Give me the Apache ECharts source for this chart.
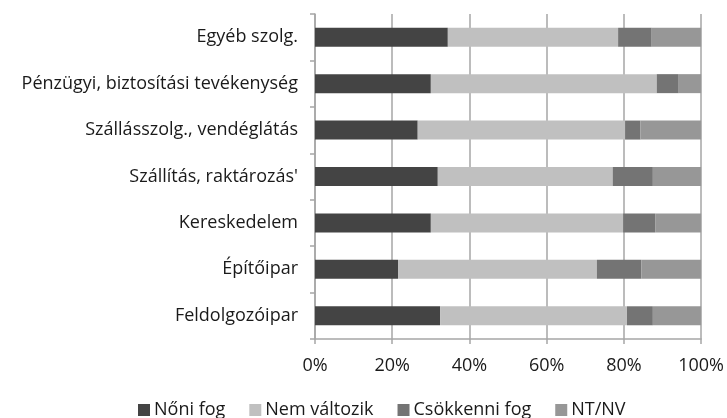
<!DOCTYPE html>
<html lang="hu">
<head>
<meta charset="UTF-8">
<title>chart</title>
<script src="https://cdn.jsdelivr.net/npm/echarts@6/dist/echarts.min.js"></script>
<style>
  html, body { margin: 0; padding: 0; background: #fff; }
  #main { width: 727px; height: 418px; }
</style>
</head>
<body>
<div id="main"></div>
<script>
// kategóriák (felülről lefelé)
var categories = ['Egyéb szolg.', 'Pénzügyi, biztosítási tevékenység', 'Szállásszolg., vendéglátás',
  "Szállítás, raktározás'", 'Kereskedelem', 'Építőipar', 'Feldolgozóipar'];
var seriesNames = ['Nőni fog', 'Nem változik', 'Csökkenni fog', 'NT/NV'];
var noni = [34.4, 30.0, 26.6, 31.8, 30.0, 21.5, 32.4];
var nemValtozik = [44.1, 58.5, 53.7, 45.3, 49.8, 51.5, 48.4];
var csokkenni = [8.7, 5.7, 4.0, 10.4, 8.3, 11.5, 6.7];
var ntnv = [12.8, 5.8, 15.7, 12.5, 11.9, 15.5, 12.5];
var xTicks = [0, 20, 40, 60, 80, 100];

var colors = ['#444444', '#c0c0c0', '#747474', '#979797'];
var font = '"Open Sans", sans-serif';

var chart = echarts.init(document.getElementById('main'));
var data = [noni, nemValtozik, csokkenni, ntnv];

chart.setOption({
  animation: false,
  color: colors,
  grid: { left: 315, right: 23, top: 14, bottom: 79 },
  legend: {
    data: seriesNames,
    left: 133,
    top: 396,
    itemWidth: 12,
    itemHeight: 12,
    itemGap: 24,
    icon: 'rect',
    textStyle: { fontFamily: font, fontSize: 18, color: '#1a1a1a', padding: [0, 0, 0, -1] }
  },
  xAxis: {
    type: 'value',
    min: xTicks[0],
    max: xTicks[xTicks.length - 1],
    interval: 20,
    axisLine: { show: true, lineStyle: { color: '#a6a6a6', width: 1.5 } },
    axisTick: { show: true, length: 5, lineStyle: { color: '#a6a6a6', width: 1.5 } },
    splitLine: { show: true, lineStyle: { color: '#a6a6a6', width: 1.5 } },
    axisLabel: {
      margin: 18,
      fontFamily: font, fontSize: 18, color: '#1a1a1a',
      formatter: function (v) { return v + '%'; }
    }
  },
  yAxis: {
    type: 'category',
    inverse: true,
    data: categories,
    axisLine: { show: true, lineStyle: { color: '#a6a6a6', width: 1.5 } },
    axisTick: { show: true, length: 5, lineStyle: { color: '#a6a6a6', width: 1.5 } },
    axisLabel: { margin: 17, fontFamily: font, fontSize: 18, color: '#1a1a1a' }
  },
  series: seriesNames.map(function (name, i) {
    return {
      name: name,
      type: 'bar',
      stack: 'total',
      barWidth: 19,
      data: data[i]
    };
  })
});
</script>
</body>
</html>
